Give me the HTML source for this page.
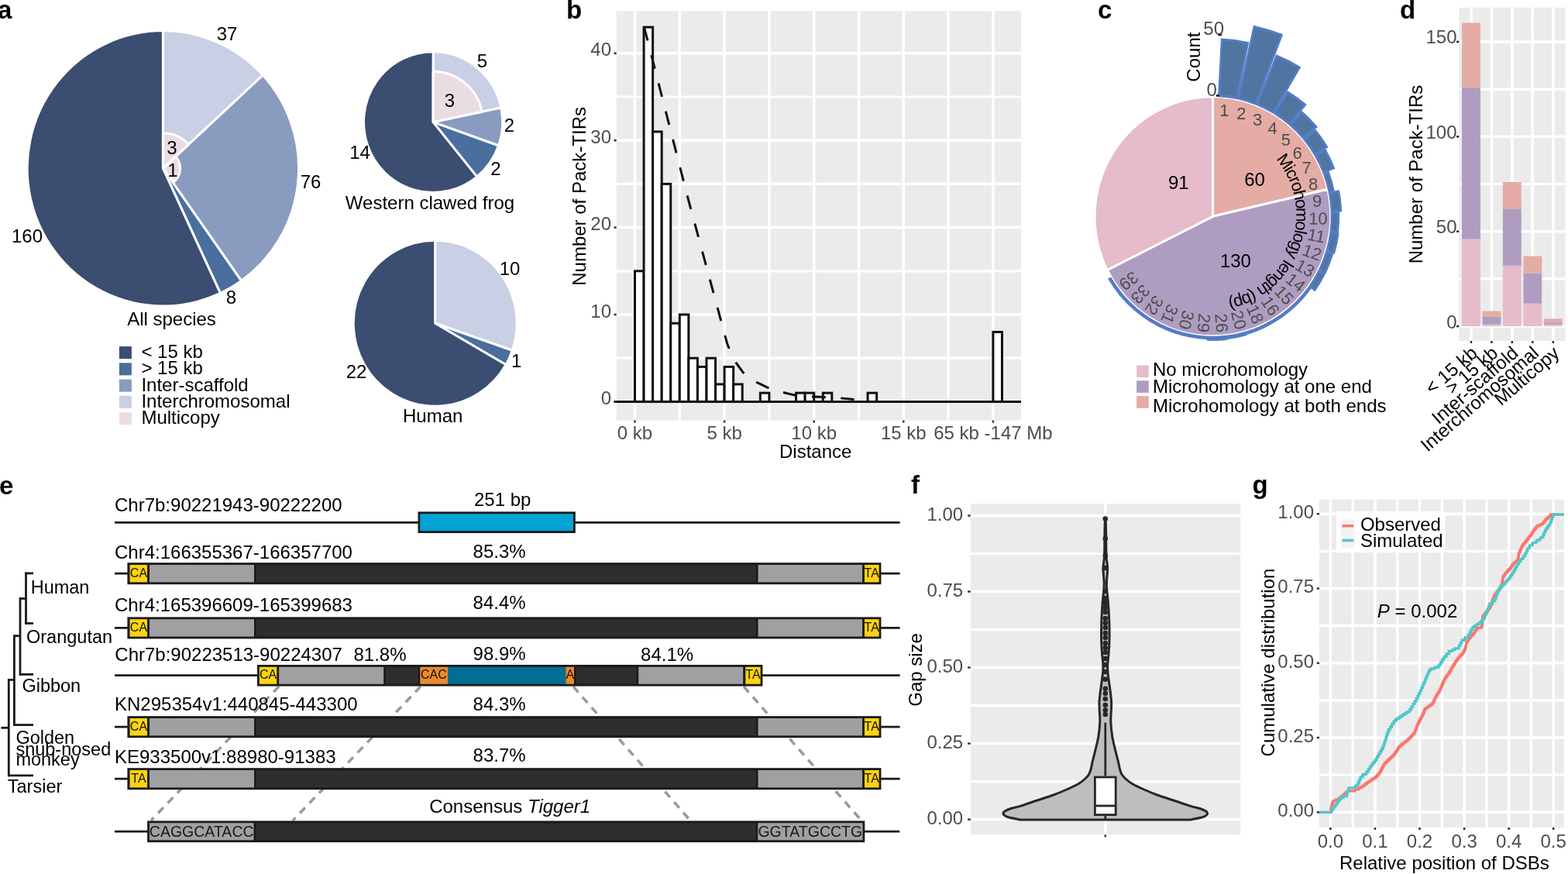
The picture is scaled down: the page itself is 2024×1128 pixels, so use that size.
<!DOCTYPE html>
<html><head><meta charset="utf-8"><title>Figure</title>
<style>
html,body{margin:0;padding:0;background:#fff;}
svg{display:block;}
text{font-family:'Liberation Sans', Arial, Helvetica, sans-serif;}
</style></head><body>
<svg width="2024" height="1128" viewBox="0 0 2024 1128">
<rect width="2024" height="1128" fill="#fff"/>
<text x="-3" y="24.3" font-size="33" font-weight="bold" fill="#000">a</text>
<g transform="translate(210.4 217.3) scale(1 1.0145) translate(-210.4 -217.3)">
<path d="M210.4 217.3L210.4 42.1A175.2 175.2 0 0 1 339.37 98.72Z" fill="#C9CFE4" stroke="#fff" stroke-width="3" stroke-linejoin="round"/>
<path d="M210.4 217.3L339.37 98.72A175.2 175.2 0 0 1 311.47 360.41Z" fill="#899BBF" stroke="#fff" stroke-width="3" stroke-linejoin="round"/>
<path d="M210.4 217.3L311.47 360.41A175.2 175.2 0 0 1 284.39 376.11Z" fill="#4A6E9E" stroke="#fff" stroke-width="3" stroke-linejoin="round"/>
<path d="M210.4 217.3L284.39 376.11A175.2 175.2 0 1 1 210.4 42.1Z" fill="#3C4D72" stroke="#fff" stroke-width="3" stroke-linejoin="round"/>
<path d="M210.4 217.3L210.4 172.3A45 45 0 0 1 243.53 186.84Z" fill="#EADCE3" stroke="#fff" stroke-width="3" stroke-linejoin="round"/>
<path d="M210.4 217.3L226.74 202.27A22.2 22.2 0 0 1 224.44 234.5Z" fill="#EADCE3" stroke="#fff" stroke-width="3" stroke-linejoin="round"/>
</g>
<text x="293" y="52" font-size="24" text-anchor="middle" fill="#000">37</text>
<text x="401" y="243" font-size="24" text-anchor="middle" fill="#000">76</text>
<text x="298.5" y="392" font-size="24" text-anchor="middle" fill="#000">8</text>
<text x="35" y="313" font-size="24" text-anchor="middle" fill="#000">160</text>
<text x="222" y="198.6" font-size="24" text-anchor="middle" fill="#000">3</text>
<text x="223" y="228.4" font-size="24" text-anchor="middle" fill="#000">1</text>
<text x="221.5" y="419.6" font-size="24" text-anchor="middle" fill="#000">All species</text>
<rect x="153.9" y="447.1" width="16" height="16" fill="#3C4D72"/>
<text x="182.4" y="462.2" font-size="24" fill="#000">&lt; 15 kb</text>
<rect x="153.9" y="468.35" width="16" height="16" fill="#4A6E9E"/>
<text x="182.4" y="483.45" font-size="24" fill="#000">&gt; 15 kb</text>
<rect x="153.9" y="489.6" width="16" height="16" fill="#899BBF"/>
<text x="182.4" y="504.7" font-size="24" fill="#000">Inter-scaffold</text>
<rect x="153.9" y="510.85" width="16" height="16" fill="#C9CFE4"/>
<text x="182.4" y="525.95" font-size="24" fill="#000">Interchromosomal</text>
<rect x="153.9" y="532.1" width="16" height="16" fill="#EADCE3"/>
<text x="182.4" y="547.2" font-size="24" fill="#000">Multicopy</text>
<g transform="translate(559.1 157.6) scale(1 1.0145) translate(-559.1 -157.6)">
<path d="M559.1 157.6L559.1 68A89.6 89.6 0 0 1 646.83 139.37Z" fill="#C9CFE4" stroke="#fff" stroke-width="3" stroke-linejoin="round"/>
<path d="M559.1 157.6L646.83 139.37A89.6 89.6 0 0 1 643.53 187.61Z" fill="#899BBF" stroke="#fff" stroke-width="3" stroke-linejoin="round"/>
<path d="M559.1 157.6L643.53 187.61A89.6 89.6 0 0 1 615.65 227.1Z" fill="#4A6E9E" stroke="#fff" stroke-width="3" stroke-linejoin="round"/>
<path d="M559.1 157.6L615.65 227.1A89.6 89.6 0 1 1 559.1 68Z" fill="#3C4D72" stroke="#fff" stroke-width="3" stroke-linejoin="round"/>
<path d="M559.1 157.6L559.1 93.1A64.5 64.5 0 0 1 622.25 144.48Z" fill="#EADCE3" stroke="#fff" stroke-width="3" stroke-linejoin="round"/>
</g>
<text x="622.5" y="87.2" font-size="24" text-anchor="middle" fill="#000">5</text>
<text x="580.5" y="138.3" font-size="24" text-anchor="middle" fill="#000">3</text>
<text x="657.5" y="170.2" font-size="24" text-anchor="middle" fill="#000">2</text>
<text x="640" y="225.5" font-size="24" text-anchor="middle" fill="#000">2</text>
<text x="464.5" y="205.3" font-size="24" text-anchor="middle" fill="#000">14</text>
<text x="555" y="270" font-size="24" text-anchor="middle" fill="#000">Western clawed frog</text>
<g transform="translate(561.7 417.25) scale(1 1.0145) translate(-561.7 -417.25)">
<path d="M561.7 417.25L561.7 311.75A105.5 105.5 0 0 1 661.4 451.76Z" fill="#C9CFE4" stroke="#fff" stroke-width="3" stroke-linejoin="round"/>
<path d="M561.7 417.25L661.4 451.76A105.5 105.5 0 0 1 653.07 470Z" fill="#4A6E9E" stroke="#fff" stroke-width="3" stroke-linejoin="round"/>
<path d="M561.7 417.25L653.07 470A105.5 105.5 0 1 1 561.7 311.75Z" fill="#3C4D72" stroke="#fff" stroke-width="3" stroke-linejoin="round"/>
</g>
<text x="658" y="354.9" font-size="24" text-anchor="middle" fill="#000">10</text>
<text x="666.8" y="473.6" font-size="24" text-anchor="middle" fill="#000">1</text>
<text x="460" y="487.7" font-size="24" text-anchor="middle" fill="#000">22</text>
<text x="558.7" y="545" font-size="24" text-anchor="middle" fill="#000">Human</text>
<text x="731" y="24.3" font-size="33" font-weight="bold" fill="#000">b</text>
<rect x="795.7" y="11" width="522.3" height="531.5" fill="#EBEBEB"/>
<line x1="795.7" y1="462.2" x2="1318" y2="462.2" stroke="#fff" stroke-width="3.2"/>
<line x1="795.7" y1="349.8" x2="1318" y2="349.8" stroke="#fff" stroke-width="3.2"/>
<line x1="795.7" y1="237.4" x2="1318" y2="237.4" stroke="#fff" stroke-width="3.2"/>
<line x1="795.7" y1="125" x2="1318" y2="125" stroke="#fff" stroke-width="3.2"/>
<line x1="795.7" y1="12.6" x2="1318" y2="12.6" stroke="#fff" stroke-width="3.2"/>
<line x1="795.7" y1="518.4" x2="1318" y2="518.4" stroke="#fff" stroke-width="3.5"/>
<line x1="795.7" y1="406" x2="1318" y2="406" stroke="#fff" stroke-width="3.5"/>
<line x1="795.7" y1="293.6" x2="1318" y2="293.6" stroke="#fff" stroke-width="3.5"/>
<line x1="795.7" y1="181.2" x2="1318" y2="181.2" stroke="#fff" stroke-width="3.5"/>
<line x1="795.7" y1="68.8" x2="1318" y2="68.8" stroke="#fff" stroke-width="3.5"/>
<line x1="877.3" y1="11" x2="877.3" y2="542.5" stroke="#fff" stroke-width="3.2"/>
<line x1="992.9" y1="11" x2="992.9" y2="542.5" stroke="#fff" stroke-width="3.2"/>
<line x1="1108.5" y1="11" x2="1108.5" y2="542.5" stroke="#fff" stroke-width="3.2"/>
<line x1="1224.1" y1="11" x2="1224.1" y2="542.5" stroke="#fff" stroke-width="3.2"/>
<line x1="819.5" y1="11" x2="819.5" y2="542.5" stroke="#fff" stroke-width="3.5"/>
<line x1="935.1" y1="11" x2="935.1" y2="542.5" stroke="#fff" stroke-width="3.5"/>
<line x1="1050.7" y1="11" x2="1050.7" y2="542.5" stroke="#fff" stroke-width="3.5"/>
<line x1="1166.3" y1="11" x2="1166.3" y2="542.5" stroke="#fff" stroke-width="3.5"/>
<line x1="1281.9" y1="11" x2="1281.9" y2="542.5" stroke="#fff" stroke-width="3.5"/>
<rect x="819.5" y="349.8" width="11.56" height="168.6" fill="#fff" stroke="#111" stroke-width="3"/>
<rect x="831.06" y="35.08" width="11.56" height="483.32" fill="#fff" stroke="#111" stroke-width="3"/>
<rect x="842.62" y="169.96" width="11.56" height="348.44" fill="#fff" stroke="#111" stroke-width="3"/>
<rect x="854.18" y="237.4" width="11.56" height="281" fill="#fff" stroke="#111" stroke-width="3"/>
<rect x="865.74" y="417.24" width="11.56" height="101.16" fill="#fff" stroke="#111" stroke-width="3"/>
<rect x="877.3" y="406" width="11.56" height="112.4" fill="#fff" stroke="#111" stroke-width="3"/>
<rect x="888.86" y="462.2" width="11.56" height="56.2" fill="#fff" stroke="#111" stroke-width="3"/>
<rect x="900.42" y="473.44" width="11.56" height="44.96" fill="#fff" stroke="#111" stroke-width="3"/>
<rect x="911.98" y="462.2" width="11.56" height="56.2" fill="#fff" stroke="#111" stroke-width="3"/>
<rect x="923.54" y="495.92" width="11.56" height="22.48" fill="#fff" stroke="#111" stroke-width="3"/>
<rect x="935.1" y="473.44" width="11.56" height="44.96" fill="#fff" stroke="#111" stroke-width="3"/>
<rect x="946.66" y="495.92" width="11.56" height="22.48" fill="#fff" stroke="#111" stroke-width="3"/>
<rect x="981.34" y="507.16" width="11.56" height="11.24" fill="#fff" stroke="#111" stroke-width="3"/>
<rect x="1027.58" y="507.16" width="11.56" height="11.24" fill="#fff" stroke="#111" stroke-width="3"/>
<rect x="1039.14" y="507.16" width="11.56" height="11.24" fill="#fff" stroke="#111" stroke-width="3"/>
<rect x="1062.26" y="507.16" width="11.56" height="11.24" fill="#fff" stroke="#111" stroke-width="3"/>
<rect x="1120.06" y="507.16" width="11.56" height="11.24" fill="#fff" stroke="#111" stroke-width="3"/>
<rect x="1281.9" y="428.48" width="11.56" height="89.92" fill="#fff" stroke="#111" stroke-width="3"/>
<line x1="792.5" y1="518.4" x2="1318" y2="518.4" stroke="#111" stroke-width="3"/>
<path d="M831.5 35 L887 252 L938.5 443 L942 452 L946 461 L951 469.5 L959 480.5 L967 487.5 L975.7 493 L991.2 500.4 L1010.4 506.4 L1026 510 L1047.5 511.8 L1061.8 512.6 L1084.5 513.8 L1102.5 515.5" fill="none" stroke="#111" stroke-width="3" stroke-dasharray="18 19.4"/>
<line x1="792.5" y1="518.4" x2="795.7" y2="518.4" stroke="#333" stroke-width="2.5"/>
<text x="789" y="522" font-size="24" text-anchor="end" fill="#4D4D4D">0</text>
<line x1="792.5" y1="406" x2="795.7" y2="406" stroke="#333" stroke-width="2.5"/>
<text x="789" y="409.6" font-size="24" text-anchor="end" fill="#4D4D4D">10</text>
<line x1="792.5" y1="293.6" x2="795.7" y2="293.6" stroke="#333" stroke-width="2.5"/>
<text x="789" y="297.2" font-size="24" text-anchor="end" fill="#4D4D4D">20</text>
<line x1="792.5" y1="181.2" x2="795.7" y2="181.2" stroke="#333" stroke-width="2.5"/>
<text x="789" y="184.8" font-size="24" text-anchor="end" fill="#4D4D4D">30</text>
<line x1="792.5" y1="68.8" x2="795.7" y2="68.8" stroke="#333" stroke-width="2.5"/>
<text x="789" y="72.4" font-size="24" text-anchor="end" fill="#4D4D4D">40</text>
<line x1="819.5" y1="542.5" x2="819.5" y2="545.5" stroke="#333" stroke-width="2.5"/>
<text x="819.5" y="566.5" font-size="24" text-anchor="middle" fill="#4D4D4D">0 kb</text>
<line x1="935.1" y1="542.5" x2="935.1" y2="545.5" stroke="#333" stroke-width="2.5"/>
<text x="935.1" y="566.5" font-size="24" text-anchor="middle" fill="#4D4D4D">5 kb</text>
<line x1="1050.7" y1="542.5" x2="1050.7" y2="545.5" stroke="#333" stroke-width="2.5"/>
<text x="1050.7" y="566.5" font-size="24" text-anchor="middle" fill="#4D4D4D">10 kb</text>
<line x1="1166.3" y1="542.5" x2="1166.3" y2="545.5" stroke="#333" stroke-width="2.5"/>
<text x="1166.3" y="566.5" font-size="24" text-anchor="middle" fill="#4D4D4D">15 kb</text>
<line x1="1281.9" y1="542.5" x2="1281.9" y2="545.5" stroke="#333" stroke-width="2.5"/>
<text x="1281.9" y="566.5" font-size="24" text-anchor="middle" fill="#4D4D4D">65 kb -147 Mb</text>
<text x="1052.7" y="590.7" font-size="24" text-anchor="middle" fill="#000">Distance</text>
<text x="756" y="253.4" font-size="24" text-anchor="middle" fill="#000" transform="rotate(-90 756 253.4)">Number of Pack-TIRs</text>
<text x="1417" y="24.3" font-size="33" font-weight="bold" fill="#000">c</text>
<g transform="translate(1565.45 279.35) scale(1 1.0143) translate(-1565.45 -279.35)">
<path d="M1565.45 279.35L1565.45 127A152.35 152.35 0 0 1 1713.82 244.74Z" fill="#E5ACA5" stroke="#fff" stroke-width="3" stroke-linejoin="round"/>
<path d="M1565.45 279.35L1713.82 244.74A152.35 152.35 0 0 1 1429.21 347.53Z" fill="#AF9DC1" stroke="#fff" stroke-width="3" stroke-linejoin="round"/>
<path d="M1565.45 279.35L1429.21 347.53A152.35 152.35 0 0 1 1565.45 127Z" fill="#E6BBCB" stroke="#fff" stroke-width="3" stroke-linejoin="round"/>
<path d="M1573.59 125.82L1577.38 54.34A225.33 225.33 0 0 1 1610.63 58.6L1596.28 128.72A153.75 153.75 0 0 0 1573.59 125.82Z" fill="#4F75A0" stroke="#547CC4" stroke-width="3" stroke-linejoin="miter"/>
<path d="M1598.76 129.25L1619.03 37.94A247.28 247.28 0 0 1 1654.25 48.56L1620.66 135.86A153.75 153.75 0 0 0 1598.76 129.25Z" fill="#4F75A0" stroke="#547CC4" stroke-width="3" stroke-linejoin="miter"/>
<path d="M1623.03 136.79L1647.93 75.15A220.23 220.23 0 0 1 1677.31 89.65L1643.54 146.91A153.75 153.75 0 0 0 1623.03 136.79Z" fill="#4F75A0" stroke="#547CC4" stroke-width="3" stroke-linejoin="miter"/>
<path d="M1645.72 148.22L1662.27 121.19A185.44 185.44 0 0 1 1684.67 137.3L1664.29 161.58A153.75 153.75 0 0 0 1645.72 148.22Z" fill="#4F75A0" stroke="#547CC4" stroke-width="3" stroke-linejoin="miter"/>
<path d="M1666.23 163.23L1680.41 146.89A175.39 175.39 0 0 1 1698.79 165.41L1682.34 179.47A153.75 153.75 0 0 0 1666.23 163.23Z" fill="#4F75A0" stroke="#547CC4" stroke-width="3" stroke-linejoin="miter"/>
<path d="M1683.97 181.42L1697.68 170.09A171.53 171.53 0 0 1 1712.43 190.92L1697.19 200.08A153.75 153.75 0 0 0 1683.97 181.42Z" fill="#4F75A0" stroke="#547CC4" stroke-width="3" stroke-linejoin="miter"/>
<path d="M1698.49 202.28L1710.53 195.3A167.66 167.66 0 0 1 1721.39 217.75L1708.45 222.87A153.75 153.75 0 0 0 1698.49 202.28Z" fill="#4F75A0" stroke="#547CC4" stroke-width="3" stroke-linejoin="miter"/>
<path d="M1709.36 225.24L1714.43 223.33A159.16 159.16 0 0 1 1721.09 246.06L1715.8 247.19A153.75 153.75 0 0 0 1709.36 225.24Z" fill="#4F75A0" stroke="#547CC4" stroke-width="3" stroke-linejoin="miter"/>
<path d="M1716.31 249.68L1727.69 247.44A165.34 165.34 0 0 1 1730.63 271.87L1719.04 272.39A153.75 153.75 0 0 0 1716.31 249.68Z" fill="#4F75A0" stroke="#547CC4" stroke-width="3" stroke-linejoin="miter"/>
<path d="M1719.14 274.93L1727.64 274.69A162.25 162.25 0 0 1 1726.53 298.8L1718.09 297.78A153.75 153.75 0 0 0 1719.14 274.93Z" fill="#4F75A0" stroke="#547CC4" stroke-width="3" stroke-linejoin="miter"/>
<path d="M1717.77 300.31L1726.95 301.57A163.03 163.03 0 0 1 1721.87 325.29L1712.97 322.67A153.75 153.75 0 0 0 1717.77 300.31Z" fill="#4F75A0" stroke="#547CC4" stroke-width="3" stroke-linejoin="miter"/>
<path d="M1712.23 325.11L1719.61 327.41A161.48 161.48 0 0 1 1710.78 349.75L1703.82 346.38A153.75 153.75 0 0 0 1712.23 325.11Z" fill="#4F75A0" stroke="#547CC4" stroke-width="3" stroke-linejoin="miter"/>
<path d="M1702.69 348.66L1709.59 352.14A161.48 161.48 0 0 1 1697.2 372.72L1690.89 368.25A153.75 153.75 0 0 0 1702.69 348.66Z" fill="#4F75A0" stroke="#547CC4" stroke-width="3" stroke-linejoin="miter"/>
<path d="M1689.4 370.32L1690.65 371.23A155.3 155.3 0 0 1 1675.63 388.79L1674.54 387.7A153.75 153.75 0 0 0 1689.4 370.32Z" fill="#4F75A0" stroke="#547CC4" stroke-width="3" stroke-linejoin="miter"/>
<path d="M1672.73 389.49L1673.81 390.6A155.3 155.3 0 0 1 1656.1 405.44L1655.2 404.19A153.75 153.75 0 0 0 1672.73 389.49Z" fill="#4F75A0" stroke="#547CC4" stroke-width="3" stroke-linejoin="miter"/>
<path d="M1653.12 405.65L1654 406.92A155.3 155.3 0 0 1 1634.1 418.65L1633.41 417.26A153.75 153.75 0 0 0 1653.12 405.65Z" fill="#4F75A0" stroke="#547CC4" stroke-width="3" stroke-linejoin="miter"/>
<path d="M1631.12 418.37L1631.78 419.77A155.3 155.3 0 0 1 1610.22 428.05L1609.77 426.57A153.75 153.75 0 0 0 1631.12 418.37Z" fill="#4F75A0" stroke="#547CC4" stroke-width="3" stroke-linejoin="miter"/>
<path d="M1607.33 427.29L1607.96 429.52A156.07 156.07 0 0 1 1585.21 434.16L1584.92 431.86A153.75 153.75 0 0 0 1607.33 427.29Z" fill="#4F75A0" stroke="#547CC4" stroke-width="3" stroke-linejoin="miter"/>
<path d="M1582.39 432.16L1582.73 435.24A156.84 156.84 0 0 1 1559.41 436.08L1559.53 432.99A153.75 153.75 0 0 0 1582.39 432.16Z" fill="#4F75A0" stroke="#547CC4" stroke-width="3" stroke-linejoin="miter"/>
<path d="M1556.99 432.87L1556.91 434.41A155.3 155.3 0 0 1 1534 431.43L1534.31 429.91A153.75 153.75 0 0 0 1556.99 432.87Z" fill="#4F75A0" stroke="#547CC4" stroke-width="3" stroke-linejoin="miter"/>
<path d="M1531.82 429.38L1531.48 430.89A155.3 155.3 0 0 1 1509.38 424.17L1509.94 422.73A153.75 153.75 0 0 0 1531.82 429.38Z" fill="#4F75A0" stroke="#547CC4" stroke-width="3" stroke-linejoin="miter"/>
<path d="M1507.57 421.79L1506.99 423.22A155.3 155.3 0 0 1 1486.29 412.96L1487.08 411.63A153.75 153.75 0 0 0 1507.57 421.79Z" fill="#4F75A0" stroke="#547CC4" stroke-width="3" stroke-linejoin="miter"/>
<path d="M1484.9 410.31L1484.09 411.63A155.3 155.3 0 0 1 1465.37 398.09L1466.36 396.91A153.75 153.75 0 0 0 1484.9 410.31Z" fill="#4F75A0" stroke="#547CC4" stroke-width="3" stroke-linejoin="miter"/>
<path d="M1464.43 395.26L1463.42 396.42A155.3 155.3 0 0 1 1447.18 379.99L1448.35 378.99A153.75 153.75 0 0 0 1464.43 395.26Z" fill="#4F75A0" stroke="#547CC4" stroke-width="3" stroke-linejoin="miter"/>
<path d="M1446.72 377.04L1445.53 378.02A155.3 155.3 0 0 1 1432.22 359.13L1433.54 358.34A153.75 153.75 0 0 0 1446.72 377.04Z" fill="#4F75A0" stroke="#547CC4" stroke-width="3" stroke-linejoin="miter"/>
<path id="mharc" d="M1660.54 196.69A126 126 0 0 1 1468.93 360.34" fill="none"/>
<text font-size="22" fill="#000"><textPath href="#mharc"><tspan dy="16.5">Microhomology length (bp)</tspan></textPath></text>
</g>
<text x="1521.3" y="243.8" font-size="24" text-anchor="middle" fill="#000">91</text>
<text x="1619.5" y="239.5" font-size="24" text-anchor="middle" fill="#000">60</text>
<text x="1594.9" y="344.9" font-size="24" text-anchor="middle" fill="#000">130</text>
<text x="1580.3" y="142.23" font-size="22" text-anchor="middle" fill="#4D4D4D" transform="rotate(0 1580.3 142.23)" dy="7.5">1</text>
<text x="1602.26" y="146.56" font-size="22" text-anchor="middle" fill="#4D4D4D" transform="rotate(0 1602.26 146.56)" dy="7.5">2</text>
<text x="1623.23" y="154.48" font-size="22" text-anchor="middle" fill="#4D4D4D" transform="rotate(0 1623.23 154.48)" dy="7.5">3</text>
<text x="1642.64" y="165.78" font-size="22" text-anchor="middle" fill="#4D4D4D" transform="rotate(0 1642.64 165.78)" dy="7.5">4</text>
<text x="1659.96" y="180.15" font-size="22" text-anchor="middle" fill="#4D4D4D" transform="rotate(0 1659.96 180.15)" dy="7.5">5</text>
<text x="1674.71" y="197.21" font-size="22" text-anchor="middle" fill="#4D4D4D" transform="rotate(0 1674.71 197.21)" dy="7.5">6</text>
<text x="1686.51" y="216.5" font-size="22" text-anchor="middle" fill="#4D4D4D" transform="rotate(0 1686.51 216.5)" dy="7.5">7</text>
<text x="1695.04" y="237.49" font-size="22" text-anchor="middle" fill="#4D4D4D" transform="rotate(0 1695.04 237.49)" dy="7.5">8</text>
<text x="1700.05" y="259.6" font-size="22" text-anchor="middle" fill="#4D4D4D" transform="rotate(0 1700.05 259.6)" dy="7.5">9</text>
<text x="1701.42" y="282.14" font-size="22" text-anchor="middle" fill="#4D4D4D" transform="rotate(1.16 1701.42 282.14)" dy="7.5">10</text>
<text x="1699.21" y="304.27" font-size="22" text-anchor="middle" fill="#4D4D4D" transform="rotate(10.41 1699.21 304.27)" dy="7.5">11</text>
<text x="1693.52" y="325.76" font-size="22" text-anchor="middle" fill="#4D4D4D" transform="rotate(19.66 1693.52 325.76)" dy="7.5">12</text>
<text x="1684.5" y="346.05" font-size="22" text-anchor="middle" fill="#4D4D4D" transform="rotate(28.91 1684.5 346.05)" dy="7.5">13</text>
<text x="1672.37" y="364.59" font-size="22" text-anchor="middle" fill="#4D4D4D" transform="rotate(38.17 1672.37 364.59)" dy="7.5">14</text>
<text x="1657.47" y="380.92" font-size="22" text-anchor="middle" fill="#4D4D4D" transform="rotate(47.42 1657.47 380.92)" dy="7.5">15</text>
<text x="1639.85" y="394.83" font-size="22" text-anchor="middle" fill="#4D4D4D" transform="rotate(56.84 1639.85 394.83)" dy="7.5">16</text>
<text x="1620.22" y="405.62" font-size="22" text-anchor="middle" fill="#4D4D4D" transform="rotate(66.25 1620.22 405.62)" dy="7.5">18</text>
<text x="1599.11" y="413" font-size="22" text-anchor="middle" fill="#4D4D4D" transform="rotate(75.67 1599.11 413)" dy="7.5">20</text>
<text x="1576.7" y="416.82" font-size="22" text-anchor="middle" fill="#4D4D4D" transform="rotate(85.25 1576.7 416.82)" dy="7.5">26</text>
<text x="1553.91" y="416.8" font-size="22" text-anchor="middle" fill="#4D4D4D" transform="rotate(94.87 1553.91 416.8)" dy="7.5">29</text>
<text x="1531.43" y="412.91" font-size="22" text-anchor="middle" fill="#4D4D4D" transform="rotate(104.48 1531.43 412.91)" dy="7.5">30</text>
<text x="1509.92" y="405.27" font-size="22" text-anchor="middle" fill="#4D4D4D" transform="rotate(114.1 1509.92 405.27)" dy="7.5">31</text>
<text x="1489.96" y="394.09" font-size="22" text-anchor="middle" fill="#4D4D4D" transform="rotate(123.72 1489.96 394.09)" dy="7.5">32</text>
<text x="1472.13" y="379.69" font-size="22" text-anchor="middle" fill="#4D4D4D" transform="rotate(133.33 1472.13 379.69)" dy="7.5">33</text>
<text x="1456.91" y="362.47" font-size="22" text-anchor="middle" fill="#4D4D4D" transform="rotate(142.95 1456.91 362.47)" dy="7.5">39</text>
<text x="1580" y="45" font-size="24" text-anchor="end" fill="#4D4D4D">50</text>
<text x="1570.8" y="123.7" font-size="24" text-anchor="end" fill="#4D4D4D">0</text>
<line x1="1572.3" y1="45" x2="1577" y2="45" stroke="#222" stroke-width="2.6"/>
<line x1="1569.7" y1="123.4" x2="1574" y2="123.4" stroke="#222" stroke-width="2.6"/>
<text x="1549.3" y="73.6" font-size="24" text-anchor="middle" fill="#000" transform="rotate(-90 1549.3 73.6)">Count</text>
<rect x="1467.1" y="471.5" width="15.7" height="15.6" fill="#E6BBCB"/>
<text x="1488" y="485" font-size="24" fill="#000">No microhomology</text>
<rect x="1467.1" y="491.3" width="15.7" height="15.6" fill="#AF9DC1"/>
<text x="1488" y="506.9" font-size="24" fill="#000">Microhomology at one end</text>
<rect x="1467.1" y="511.1" width="15.7" height="15.6" fill="#E5ACA5"/>
<text x="1488" y="531.5" font-size="24" fill="#000">Microhomology at both ends</text>
<text x="1807" y="24.3" font-size="33" font-weight="bold" fill="#000">d</text>
<rect x="1883.4" y="9.8" width="137.1" height="430.2" fill="#EBEBEB"/>
<line x1="1883.4" y1="359.9" x2="2020.5" y2="359.9" stroke="#fff" stroke-width="3.2"/>
<line x1="1883.4" y1="237.5" x2="2020.5" y2="237.5" stroke="#fff" stroke-width="3.2"/>
<line x1="1883.4" y1="115.1" x2="2020.5" y2="115.1" stroke="#fff" stroke-width="3.2"/>
<line x1="1883.4" y1="421.1" x2="2020.5" y2="421.1" stroke="#fff" stroke-width="3.5"/>
<line x1="1883.4" y1="298.7" x2="2020.5" y2="298.7" stroke="#fff" stroke-width="3.5"/>
<line x1="1883.4" y1="176.3" x2="2020.5" y2="176.3" stroke="#fff" stroke-width="3.5"/>
<line x1="1883.4" y1="53.9" x2="2020.5" y2="53.9" stroke="#fff" stroke-width="3.5"/>
<line x1="1899" y1="9.8" x2="1899" y2="440" stroke="#fff" stroke-width="3.5"/>
<line x1="1925.5" y1="9.8" x2="1925.5" y2="440" stroke="#fff" stroke-width="3.5"/>
<line x1="1951.8" y1="9.8" x2="1951.8" y2="440" stroke="#fff" stroke-width="3.5"/>
<line x1="1978.3" y1="9.8" x2="1978.3" y2="440" stroke="#fff" stroke-width="3.5"/>
<line x1="2004.8" y1="9.8" x2="2004.8" y2="440" stroke="#fff" stroke-width="3.5"/>
<rect x="1887.05" y="308.49" width="23.9" height="112.61" fill="#E6BBCB"/>
<rect x="1887.05" y="112.65" width="23.9" height="195.84" fill="#AF9DC1"/>
<rect x="1887.05" y="29.42" width="23.9" height="83.23" fill="#E5ACA5"/>
<rect x="1913.55" y="418.65" width="23.9" height="2.45" fill="#E6BBCB"/>
<rect x="1913.55" y="408.86" width="23.9" height="9.79" fill="#AF9DC1"/>
<rect x="1913.55" y="401.52" width="23.9" height="7.34" fill="#E5ACA5"/>
<rect x="1939.85" y="342.76" width="23.9" height="78.34" fill="#E6BBCB"/>
<rect x="1939.85" y="269.32" width="23.9" height="73.44" fill="#AF9DC1"/>
<rect x="1939.85" y="235.05" width="23.9" height="34.27" fill="#E5ACA5"/>
<rect x="1966.35" y="391.72" width="23.9" height="29.38" fill="#E6BBCB"/>
<rect x="1966.35" y="352.56" width="23.9" height="39.17" fill="#AF9DC1"/>
<rect x="1966.35" y="330.52" width="23.9" height="22.03" fill="#E5ACA5"/>
<rect x="1992.85" y="418.65" width="23.9" height="2.45" fill="#E6BBCB"/>
<rect x="1992.85" y="416.2" width="23.9" height="2.45" fill="#AF9DC1"/>
<rect x="1992.85" y="411.31" width="23.9" height="4.9" fill="#E5ACA5"/>
<line x1="1880" y1="421.1" x2="1883.4" y2="421.1" stroke="#333" stroke-width="2.5"/>
<text x="1880.5" y="423.6" font-size="24" text-anchor="end" fill="#4D4D4D">0</text>
<line x1="1880" y1="298.7" x2="1883.4" y2="298.7" stroke="#333" stroke-width="2.5"/>
<text x="1880.5" y="301.2" font-size="24" text-anchor="end" fill="#4D4D4D">50</text>
<line x1="1880" y1="176.3" x2="1883.4" y2="176.3" stroke="#333" stroke-width="2.5"/>
<text x="1880.5" y="178.8" font-size="24" text-anchor="end" fill="#4D4D4D">100</text>
<line x1="1880" y1="53.9" x2="1883.4" y2="53.9" stroke="#333" stroke-width="2.5"/>
<text x="1880.5" y="56.4" font-size="24" text-anchor="end" fill="#4D4D4D">150</text>
<line x1="1899" y1="440" x2="1899" y2="443" stroke="#333" stroke-width="2.5"/>
<text x="1908.5" y="458" font-size="24" text-anchor="end" fill="#000" transform="rotate(-41 1908.5 458)">&lt; 15 kb</text>
<line x1="1925.5" y1="440" x2="1925.5" y2="443" stroke="#333" stroke-width="2.5"/>
<text x="1935" y="458" font-size="24" text-anchor="end" fill="#000" transform="rotate(-41 1935 458)">&gt; 15 kb</text>
<line x1="1951.8" y1="440" x2="1951.8" y2="443" stroke="#333" stroke-width="2.5"/>
<text x="1961.3" y="458" font-size="24" text-anchor="end" fill="#000" transform="rotate(-41 1961.3 458)">Inter-scaffold</text>
<line x1="1978.3" y1="440" x2="1978.3" y2="443" stroke="#333" stroke-width="2.5"/>
<text x="1987.8" y="458" font-size="24" text-anchor="end" fill="#000" transform="rotate(-41 1987.8 458)">Interchromosomal</text>
<line x1="2004.8" y1="440" x2="2004.8" y2="443" stroke="#333" stroke-width="2.5"/>
<text x="2014.3" y="458" font-size="24" text-anchor="end" fill="#000" transform="rotate(-41 2014.3 458)">Multicopy</text>
<text x="1835.5" y="225" font-size="24" text-anchor="middle" fill="#000" transform="rotate(-90 1835.5 225)">Number of Pack-TIRs</text>
<text x="-1" y="637.5" font-size="33" font-weight="bold" fill="#000">e</text>
<line x1="360" y1="886" x2="195" y2="1059" stroke="#9A9A9A" stroke-width="3.5" stroke-dasharray="10 8"/>
<line x1="543" y1="886" x2="378" y2="1059" stroke="#9A9A9A" stroke-width="3.5" stroke-dasharray="10 8"/>
<line x1="740" y1="886" x2="891" y2="1059" stroke="#9A9A9A" stroke-width="3.5" stroke-dasharray="10 8"/>
<line x1="960" y1="886" x2="1112" y2="1059" stroke="#9A9A9A" stroke-width="3.5" stroke-dasharray="10 8"/>
<line x1="32.1" y1="739.9" x2="43" y2="739.9" stroke="#1a1a1a" stroke-width="2.8"/>
<line x1="32.1" y1="804.5" x2="43" y2="804.5" stroke="#1a1a1a" stroke-width="2.8"/>
<line x1="33.5" y1="738.5" x2="33.5" y2="806" stroke="#1a1a1a" stroke-width="2.8"/>
<line x1="25" y1="772.5" x2="33.5" y2="772.5" stroke="#1a1a1a" stroke-width="2.8"/>
<line x1="25" y1="870.4" x2="43" y2="870.4" stroke="#1a1a1a" stroke-width="2.8"/>
<line x1="26" y1="771" x2="26" y2="872" stroke="#1a1a1a" stroke-width="2.8"/>
<line x1="17.9" y1="820.7" x2="26" y2="820.7" stroke="#1a1a1a" stroke-width="2.8"/>
<line x1="17.9" y1="935.6" x2="43" y2="935.6" stroke="#1a1a1a" stroke-width="2.8"/>
<line x1="18.4" y1="819.3" x2="18.4" y2="937" stroke="#1a1a1a" stroke-width="2.8"/>
<line x1="10.8" y1="877.4" x2="18.4" y2="877.4" stroke="#1a1a1a" stroke-width="2.8"/>
<line x1="10.8" y1="1000.9" x2="43" y2="1000.9" stroke="#1a1a1a" stroke-width="2.8"/>
<line x1="11.3" y1="876" x2="11.3" y2="1002.3" stroke="#1a1a1a" stroke-width="2.8"/>
<line x1="1.4" y1="939.3" x2="11.3" y2="939.3" stroke="#1a1a1a" stroke-width="2.8"/>
<text x="39.7" y="766.2" font-size="23.5" fill="#000">Human</text>
<text x="34" y="830" font-size="23.5" fill="#000">Orangutan</text>
<text x="28.4" y="892.5" font-size="23.5" fill="#000">Gibbon</text>
<text x="20.4" y="960.3" font-size="23.5" fill="#000">Golden</text>
<text x="20.4" y="974.8" font-size="23.5" fill="#000">snub-nosed</text>
<text x="20.4" y="987.8" font-size="23.5" fill="#000">monkey</text>
<text x="9.8" y="1023.2" font-size="23.5" fill="#000">Tarsier</text>
<text x="148" y="659.5" font-size="24" fill="#000">Chr7b:90221943-90222200</text>
<line x1="148" y1="674.3" x2="1161.6" y2="674.3" stroke="#1a1a1a" stroke-width="2.8"/>
<rect x="540.9" y="661.8" width="200.5" height="24.8" fill="#02A3D4" stroke="#1A1A1A" stroke-width="2.8"/>
<text x="612" y="653.4" font-size="24" fill="#000">251 bp</text>
<text x="148" y="720.5" font-size="24" fill="#000">Chr4:166355367-166357700</text>
<text x="610.6" y="720.1" font-size="24" fill="#000">85.3%</text>
<line x1="148" y1="740.2" x2="1161.6" y2="740.2" stroke="#1a1a1a" stroke-width="2.8"/>
<rect x="165.9" y="727.7" width="970" height="25" fill="#2E2E2E" stroke="#1A1A1A" stroke-width="3"/>
<rect x="167.6" y="729" width="22.7" height="22.4" fill="#FDD30F"/>
<text x="178.95" y="744.76" font-size="16" text-anchor="middle" fill="#111">CA</text>
<rect x="192.8" y="729" width="135.4" height="22.4" fill="#A0A0A2"/>
<rect x="978.1" y="729" width="135.2" height="22.4" fill="#A0A0A2"/>
<rect x="1115.8" y="729" width="18.8" height="22.4" fill="#FDD30F"/>
<text x="1125.2" y="744.76" font-size="16" text-anchor="middle" fill="#111">TA</text>
<line x1="191.5" y1="727.7" x2="191.5" y2="752.7" stroke="#1A1A1A" stroke-width="2.6"/>
<line x1="329.3" y1="727.7" x2="329.3" y2="752.7" stroke="#1A1A1A" stroke-width="2.6"/>
<line x1="977.2" y1="727.7" x2="977.2" y2="752.7" stroke="#1A1A1A" stroke-width="2.6"/>
<line x1="1114.5" y1="727.7" x2="1114.5" y2="752.7" stroke="#1A1A1A" stroke-width="2.6"/>
<text x="148" y="789" font-size="24" fill="#000">Chr4:165396609-165399683</text>
<text x="610.6" y="786" font-size="24" fill="#000">84.4%</text>
<line x1="148" y1="810.4" x2="1161.6" y2="810.4" stroke="#1a1a1a" stroke-width="2.8"/>
<rect x="165.9" y="797.9" width="970" height="25" fill="#2E2E2E" stroke="#1A1A1A" stroke-width="3"/>
<rect x="167.6" y="799.2" width="22.7" height="22.4" fill="#FDD30F"/>
<text x="178.95" y="814.96" font-size="16" text-anchor="middle" fill="#111">CA</text>
<rect x="192.8" y="799.2" width="135.4" height="22.4" fill="#A0A0A2"/>
<rect x="978.1" y="799.2" width="135.2" height="22.4" fill="#A0A0A2"/>
<rect x="1115.8" y="799.2" width="18.8" height="22.4" fill="#FDD30F"/>
<text x="1125.2" y="814.96" font-size="16" text-anchor="middle" fill="#111">TA</text>
<line x1="191.5" y1="797.9" x2="191.5" y2="822.9" stroke="#1A1A1A" stroke-width="2.6"/>
<line x1="329.3" y1="797.9" x2="329.3" y2="822.9" stroke="#1A1A1A" stroke-width="2.6"/>
<line x1="977.2" y1="797.9" x2="977.2" y2="822.9" stroke="#1A1A1A" stroke-width="2.6"/>
<line x1="1114.5" y1="797.9" x2="1114.5" y2="822.9" stroke="#1A1A1A" stroke-width="2.6"/>
<text x="148" y="917.1" font-size="24" fill="#000">KN295354v1:440845-443300</text>
<text x="610.6" y="917.2" font-size="24" fill="#000">84.3%</text>
<line x1="148" y1="938.2" x2="1161.6" y2="938.2" stroke="#1a1a1a" stroke-width="2.8"/>
<rect x="165.9" y="925.7" width="970" height="25" fill="#2E2E2E" stroke="#1A1A1A" stroke-width="3"/>
<rect x="167.6" y="927" width="22.7" height="22.4" fill="#FDD30F"/>
<text x="178.95" y="942.76" font-size="16" text-anchor="middle" fill="#111">CA</text>
<rect x="192.8" y="927" width="135.4" height="22.4" fill="#A0A0A2"/>
<rect x="978.1" y="927" width="135.2" height="22.4" fill="#A0A0A2"/>
<rect x="1115.8" y="927" width="18.8" height="22.4" fill="#FDD30F"/>
<text x="1125.2" y="942.76" font-size="16" text-anchor="middle" fill="#111">TA</text>
<line x1="191.5" y1="925.7" x2="191.5" y2="950.7" stroke="#1A1A1A" stroke-width="2.6"/>
<line x1="329.3" y1="925.7" x2="329.3" y2="950.7" stroke="#1A1A1A" stroke-width="2.6"/>
<line x1="977.2" y1="925.7" x2="977.2" y2="950.7" stroke="#1A1A1A" stroke-width="2.6"/>
<line x1="1114.5" y1="925.7" x2="1114.5" y2="950.7" stroke="#1A1A1A" stroke-width="2.6"/>
<text x="148" y="985.3" font-size="24" fill="#000">KE933500v1:88980-91383</text>
<text x="610.6" y="983.2" font-size="24" fill="#000">83.7%</text>
<line x1="148" y1="1005.2" x2="1161.6" y2="1005.2" stroke="#1a1a1a" stroke-width="2.8"/>
<rect x="165.9" y="992.7" width="970" height="25" fill="#2E2E2E" stroke="#1A1A1A" stroke-width="3"/>
<rect x="167.6" y="994" width="22.7" height="22.4" fill="#FDD30F"/>
<text x="178.95" y="1009.76" font-size="16" text-anchor="middle" fill="#111">TA</text>
<rect x="192.8" y="994" width="135.4" height="22.4" fill="#A0A0A2"/>
<rect x="978.1" y="994" width="135.2" height="22.4" fill="#A0A0A2"/>
<rect x="1115.8" y="994" width="18.8" height="22.4" fill="#FDD30F"/>
<text x="1125.2" y="1009.76" font-size="16" text-anchor="middle" fill="#111">TA</text>
<line x1="191.5" y1="992.7" x2="191.5" y2="1017.7" stroke="#1A1A1A" stroke-width="2.6"/>
<line x1="329.3" y1="992.7" x2="329.3" y2="1017.7" stroke="#1A1A1A" stroke-width="2.6"/>
<line x1="977.2" y1="992.7" x2="977.2" y2="1017.7" stroke="#1A1A1A" stroke-width="2.6"/>
<line x1="1114.5" y1="992.7" x2="1114.5" y2="1017.7" stroke="#1A1A1A" stroke-width="2.6"/>
<text x="148.3" y="852.8" font-size="24" fill="#000">Chr7b:90223513-90224307</text>
<text x="456.5" y="852.5" font-size="24" fill="#000">81.8%</text>
<text x="610.6" y="852" font-size="24" fill="#000">98.9%</text>
<text x="827.1" y="852.5" font-size="24" fill="#000">84.1%</text>
<line x1="148" y1="871.6" x2="1161.6" y2="871.6" stroke="#1a1a1a" stroke-width="2.8"/>
<rect x="333.5" y="859.5" width="649.4" height="24.6" fill="#2E2E2E" stroke="#1A1A1A" stroke-width="3"/>
<rect x="334.8" y="860.8" width="22.7" height="22" fill="#FDD30F"/>
<text x="346.15" y="876.36" font-size="16" text-anchor="middle" fill="#111">CA</text>
<rect x="360" y="860.8" width="135.3" height="22" fill="#A0A0A2"/>
<rect x="541.8" y="860.8" width="36.3" height="22" fill="#E98A2C"/>
<text x="559.95" y="876.36" font-size="16" text-anchor="middle" fill="#111">CAC</text>
<rect x="578.1" y="860.8" width="152.3" height="22" fill="#026E96"/>
<rect x="730.4" y="860.8" width="10.9" height="22" fill="#E98A2C"/>
<text x="735.85" y="876.36" font-size="16" text-anchor="middle" fill="#111">A</text>
<rect x="824" y="860.8" width="135.2" height="22" fill="#A0A0A2"/>
<rect x="962.3" y="860.8" width="19.3" height="22" fill="#FDD30F"/>
<text x="971.95" y="876.36" font-size="16" text-anchor="middle" fill="#111">TA</text>
<line x1="358.8" y1="859.5" x2="358.8" y2="884.1" stroke="#1A1A1A" stroke-width="2.6"/>
<line x1="496.7" y1="859.5" x2="496.7" y2="884.1" stroke="#1A1A1A" stroke-width="2.6"/>
<line x1="541" y1="859.5" x2="541" y2="884.1" stroke="#1A1A1A" stroke-width="2.6"/>
<line x1="742.3" y1="859.5" x2="742.3" y2="884.1" stroke="#1A1A1A" stroke-width="2.6"/>
<line x1="822.9" y1="859.5" x2="822.9" y2="884.1" stroke="#1A1A1A" stroke-width="2.6"/>
<line x1="960.8" y1="859.5" x2="960.8" y2="884.1" stroke="#1A1A1A" stroke-width="2.6"/>
<text x="554.2" y="1049" font-size="24" fill="#000">Consensus <tspan font-style="italic">Tigger1</tspan></text>
<line x1="148" y1="1073.2" x2="1161.3" y2="1073.2" stroke="#1a1a1a" stroke-width="2.8"/>
<rect x="191.6" y="1060.9" width="923.2" height="24.7" fill="#2E2E2E" stroke="#1A1A1A" stroke-width="3"/>
<rect x="192.9" y="1062.2" width="134.8" height="22.1" fill="#A0A0A2"/>
<rect x="978" y="1062.2" width="135.5" height="22.1" fill="#A0A0A2"/>
<line x1="329" y1="1060.9" x2="329" y2="1085.6" stroke="#1A1A1A" stroke-width="2.6"/>
<line x1="977" y1="1060.9" x2="977" y2="1085.6" stroke="#1A1A1A" stroke-width="2.6"/>
<text x="260.2" y="1080.2" font-size="19.5" text-anchor="middle" fill="#1a1a1a">CAGGCATACC</text>
<text x="1045.8" y="1080.2" font-size="19.5" text-anchor="middle" fill="#1a1a1a">GGTATGCCTG</text>
<text x="1176" y="637" font-size="33" font-weight="bold" fill="#000">f</text>
<rect x="1252.7" y="650.1" width="348.6" height="427.2" fill="#EBEBEB"/>
<line x1="1252.7" y1="1008.59" x2="1601.3" y2="1008.59" stroke="#fff" stroke-width="3.2"/>
<line x1="1252.7" y1="910.56" x2="1601.3" y2="910.56" stroke="#fff" stroke-width="3.2"/>
<line x1="1252.7" y1="812.54" x2="1601.3" y2="812.54" stroke="#fff" stroke-width="3.2"/>
<line x1="1252.7" y1="714.51" x2="1601.3" y2="714.51" stroke="#fff" stroke-width="3.2"/>
<line x1="1252.7" y1="1057.6" x2="1601.3" y2="1057.6" stroke="#fff" stroke-width="3.5"/>
<line x1="1252.7" y1="959.57" x2="1601.3" y2="959.57" stroke="#fff" stroke-width="3.5"/>
<line x1="1252.7" y1="861.55" x2="1601.3" y2="861.55" stroke="#fff" stroke-width="3.5"/>
<line x1="1252.7" y1="763.52" x2="1601.3" y2="763.52" stroke="#fff" stroke-width="3.5"/>
<line x1="1252.7" y1="665.5" x2="1601.3" y2="665.5" stroke="#fff" stroke-width="3.5"/>
<line x1="1426.8" y1="650.1" x2="1426.8" y2="1077.3" stroke="#fff" stroke-width="3.5"/>
<path d="M1316.8 1058C1314.13 1057.42 1304.3 1055.58 1300.8 1054.5C1297.3 1053.42 1296.77 1052.3 1295.8 1051.5C1294.83 1050.7 1294.83 1050.45 1295 1049.7C1295.17 1048.95 1295.17 1048.03 1296.8 1047C1298.43 1045.97 1301.47 1044.6 1304.8 1043.5C1308.13 1042.4 1311.13 1042.15 1316.8 1040.4C1322.47 1038.65 1331.63 1035.4 1338.8 1033C1345.97 1030.6 1353.47 1028.33 1359.8 1026C1366.13 1023.67 1371.47 1021.38 1376.8 1019C1382.13 1016.62 1387.8 1014.03 1391.8 1011.7C1395.8 1009.37 1398.47 1007.13 1400.8 1005C1403.13 1002.87 1404.55 1001.07 1405.8 998.9C1407.05 996.73 1407.63 994.38 1408.3 992C1408.97 989.62 1408.88 988.5 1409.8 984.6C1410.72 980.7 1412.47 974.18 1413.8 968.6C1415.13 963.02 1416.8 957.22 1417.8 951.1C1418.8 944.98 1419.57 937.75 1419.8 931.9C1420.03 926.05 1419.33 920.32 1419.2 916C1419.07 911.68 1418.82 909.83 1419 906C1419.18 902.17 1419.77 897.43 1420.3 893C1420.83 888.57 1421.65 883.57 1422.2 879.4C1422.75 875.23 1423.32 871.57 1423.6 868C1423.88 864.43 1424.1 862.33 1423.9 858C1423.7 853.67 1422.78 847.33 1422.4 842C1422.02 836.67 1421.73 831 1421.6 826C1421.47 821 1421.55 816.33 1421.6 812C1421.65 807.67 1421.73 804.33 1421.9 800C1422.07 795.67 1422.32 790.5 1422.6 786C1422.88 781.5 1423.23 777 1423.6 773C1423.97 769 1424.53 765.5 1424.8 762C1425.07 758.5 1425.27 755.33 1425.2 752C1425.13 748.67 1424.62 745.17 1424.4 742C1424.18 738.83 1423.83 735.83 1423.9 733C1423.97 730.17 1424.55 727.2 1424.8 725C1425.05 722.8 1425.23 722.88 1425.4 719.8C1425.57 716.72 1425.72 711.47 1425.8 706.5C1425.88 701.53 1425.83 695.08 1425.9 690C1425.97 684.92 1426.05 679.5 1426.2 676C1426.35 672.5 1426.6 669 1426.8 669C1427 669 1427.25 672.5 1427.4 676C1427.55 679.5 1427.63 684.92 1427.7 690C1427.77 695.08 1427.72 701.53 1427.8 706.5C1427.88 711.47 1428.03 716.72 1428.2 719.8C1428.37 722.88 1428.55 722.8 1428.8 725C1429.05 727.2 1429.63 730.17 1429.7 733C1429.77 735.83 1429.42 738.83 1429.2 742C1428.98 745.17 1428.47 748.67 1428.4 752C1428.33 755.33 1428.53 758.5 1428.8 762C1429.07 765.5 1429.63 769 1430 773C1430.37 777 1430.72 781.5 1431 786C1431.28 790.5 1431.53 795.67 1431.7 800C1431.87 804.33 1431.95 807.67 1432 812C1432.05 816.33 1432.13 821 1432 826C1431.87 831 1431.58 836.67 1431.2 842C1430.82 847.33 1429.9 853.67 1429.7 858C1429.5 862.33 1429.72 864.43 1430 868C1430.28 871.57 1430.85 875.23 1431.4 879.4C1431.95 883.57 1432.77 888.57 1433.3 893C1433.83 897.43 1434.42 902.17 1434.6 906C1434.78 909.83 1434.53 911.68 1434.4 916C1434.27 920.32 1433.57 926.05 1433.8 931.9C1434.03 937.75 1434.8 944.98 1435.8 951.1C1436.8 957.22 1438.47 963.02 1439.8 968.6C1441.13 974.18 1442.88 980.7 1443.8 984.6C1444.72 988.5 1444.63 989.62 1445.3 992C1445.97 994.38 1446.55 996.73 1447.8 998.9C1449.05 1001.07 1450.47 1002.87 1452.8 1005C1455.13 1007.13 1457.8 1009.37 1461.8 1011.7C1465.8 1014.03 1471.47 1016.62 1476.8 1019C1482.13 1021.38 1487.47 1023.67 1493.8 1026C1500.13 1028.33 1507.63 1030.6 1514.8 1033C1521.97 1035.4 1531.13 1038.65 1536.8 1040.4C1542.47 1042.15 1545.47 1042.4 1548.8 1043.5C1552.13 1044.6 1555.17 1045.97 1556.8 1047C1558.43 1048.03 1558.43 1048.95 1558.6 1049.7C1558.77 1050.45 1558.77 1050.7 1557.8 1051.5C1556.83 1052.3 1556.3 1053.42 1552.8 1054.5C1549.3 1055.58 1539.47 1057.42 1536.8 1058Z" fill="#BEBEC0" stroke="#2A2626" stroke-width="3" stroke-linejoin="round"/>
<line x1="1426.8" y1="932.7" x2="1426.8" y2="1001.6" stroke="#2A2626" stroke-width="2.8"/>
<line x1="1426.8" y1="1052.9" x2="1426.8" y2="1058" stroke="#2A2626" stroke-width="2.8"/>
<rect x="1413.4" y="1003" width="26.8" height="48.6" fill="#fff" stroke="#2A2626" stroke-width="2.8"/>
<line x1="1413.4" y1="1040" x2="1440.2" y2="1040" stroke="#2A2626" stroke-width="2.8"/>
<circle cx="1426.8" cy="669.5" r="3.3" fill="#2A2626"/>
<circle cx="1426.8" cy="695" r="3.3" fill="#2A2626"/>
<circle cx="1426.8" cy="717" r="3.3" fill="#2A2626"/>
<circle cx="1426.8" cy="733" r="3.3" fill="#2A2626"/>
<circle cx="1426.8" cy="763" r="3.3" fill="#2A2626"/>
<circle cx="1426.8" cy="772" r="3.3" fill="#2A2626"/>
<circle cx="1426.8" cy="778" r="3.3" fill="#2A2626"/>
<circle cx="1426.8" cy="784" r="3.3" fill="#2A2626"/>
<circle cx="1426.8" cy="790" r="3.3" fill="#2A2626"/>
<circle cx="1426.8" cy="798" r="3.3" fill="#2A2626"/>
<circle cx="1426.8" cy="804" r="3.3" fill="#2A2626"/>
<circle cx="1426.8" cy="810" r="3.3" fill="#2A2626"/>
<circle cx="1426.8" cy="817" r="3.3" fill="#2A2626"/>
<circle cx="1426.8" cy="823" r="3.3" fill="#2A2626"/>
<circle cx="1426.8" cy="830" r="3.3" fill="#2A2626"/>
<circle cx="1426.8" cy="836" r="3.3" fill="#2A2626"/>
<circle cx="1426.8" cy="842" r="3.3" fill="#2A2626"/>
<circle cx="1426.8" cy="850" r="3.3" fill="#2A2626"/>
<circle cx="1426.8" cy="858" r="3.3" fill="#2A2626"/>
<circle cx="1426.8" cy="867" r="3.3" fill="#2A2626"/>
<circle cx="1426.8" cy="876.7" r="3.3" fill="#2A2626"/>
<circle cx="1426.8" cy="888.7" r="3.3" fill="#2A2626"/>
<circle cx="1426.8" cy="895" r="3.3" fill="#2A2626"/>
<circle cx="1426.8" cy="902" r="3.3" fill="#2A2626"/>
<circle cx="1426.8" cy="910" r="3.3" fill="#2A2626"/>
<circle cx="1426.8" cy="916.6" r="3.3" fill="#2A2626"/>
<circle cx="1426.8" cy="922" r="3.3" fill="#2A2626"/>
<line x1="1249.2" y1="1057.6" x2="1252.7" y2="1057.6" stroke="#333" stroke-width="2.5"/>
<text x="1243.1" y="1063.8" font-size="24" text-anchor="end" fill="#4D4D4D">0.00</text>
<line x1="1249.2" y1="959.57" x2="1252.7" y2="959.57" stroke="#333" stroke-width="2.5"/>
<text x="1243.1" y="965.77" font-size="24" text-anchor="end" fill="#4D4D4D">0.25</text>
<line x1="1249.2" y1="861.55" x2="1252.7" y2="861.55" stroke="#333" stroke-width="2.5"/>
<text x="1243.1" y="867.75" font-size="24" text-anchor="end" fill="#4D4D4D">0.50</text>
<line x1="1249.2" y1="763.52" x2="1252.7" y2="763.52" stroke="#333" stroke-width="2.5"/>
<text x="1243.1" y="769.72" font-size="24" text-anchor="end" fill="#4D4D4D">0.75</text>
<line x1="1249.2" y1="665.5" x2="1252.7" y2="665.5" stroke="#333" stroke-width="2.5"/>
<text x="1243.1" y="671.7" font-size="24" text-anchor="end" fill="#4D4D4D">1.00</text>
<line x1="1426.8" y1="1077.3" x2="1426.8" y2="1080.3" stroke="#333" stroke-width="2.5"/>
<text x="1190.5" y="864.4" font-size="24" text-anchor="middle" fill="#000" transform="rotate(-90 1190.5 864.4)">Gap size</text>
<text x="1616.5" y="637" font-size="33" font-weight="bold" fill="#000">g</text>
<rect x="1703" y="644.6" width="315.9" height="423.4" fill="#EBEBEB"/>
<line x1="1703" y1="1000.16" x2="2018.9" y2="1000.16" stroke="#fff" stroke-width="3.2"/>
<line x1="1703" y1="903.89" x2="2018.9" y2="903.89" stroke="#fff" stroke-width="3.2"/>
<line x1="1703" y1="807.61" x2="2018.9" y2="807.61" stroke="#fff" stroke-width="3.2"/>
<line x1="1703" y1="711.34" x2="2018.9" y2="711.34" stroke="#fff" stroke-width="3.2"/>
<line x1="1703" y1="1048.3" x2="2018.9" y2="1048.3" stroke="#fff" stroke-width="3.5"/>
<line x1="1703" y1="952.02" x2="2018.9" y2="952.02" stroke="#fff" stroke-width="3.5"/>
<line x1="1703" y1="855.75" x2="2018.9" y2="855.75" stroke="#fff" stroke-width="3.5"/>
<line x1="1703" y1="759.47" x2="2018.9" y2="759.47" stroke="#fff" stroke-width="3.5"/>
<line x1="1703" y1="663.2" x2="2018.9" y2="663.2" stroke="#fff" stroke-width="3.5"/>
<line x1="1746.18" y1="644.6" x2="1746.18" y2="1068" stroke="#fff" stroke-width="3.2"/>
<line x1="1803.74" y1="644.6" x2="1803.74" y2="1068" stroke="#fff" stroke-width="3.2"/>
<line x1="1861.3" y1="644.6" x2="1861.3" y2="1068" stroke="#fff" stroke-width="3.2"/>
<line x1="1918.86" y1="644.6" x2="1918.86" y2="1068" stroke="#fff" stroke-width="3.2"/>
<line x1="1976.42" y1="644.6" x2="1976.42" y2="1068" stroke="#fff" stroke-width="3.2"/>
<line x1="1717.4" y1="644.6" x2="1717.4" y2="1068" stroke="#fff" stroke-width="3.5"/>
<line x1="1774.96" y1="644.6" x2="1774.96" y2="1068" stroke="#fff" stroke-width="3.5"/>
<line x1="1832.52" y1="644.6" x2="1832.52" y2="1068" stroke="#fff" stroke-width="3.5"/>
<line x1="1890.08" y1="644.6" x2="1890.08" y2="1068" stroke="#fff" stroke-width="3.5"/>
<line x1="1947.64" y1="644.6" x2="1947.64" y2="1068" stroke="#fff" stroke-width="3.5"/>
<line x1="2005.2" y1="644.6" x2="2005.2" y2="1068" stroke="#fff" stroke-width="3.5"/>
<path d="M1703 1048.3H1717.7H1717.81V1046.47H1717.89V1044.64H1718.05V1042.81H1718.34V1040.98H1718.78V1039.15H1719.38V1037.31H1720.11V1035.48H1720.91V1033.65H1724.44V1031.82H1728.2V1029.99H1730.64V1028.16H1732.93V1026.33H1735.08V1024.5H1737.13V1022.67H1739.28V1020.84H1749.06V1019H1753.47V1017.17H1756.84V1015.34H1759.81V1013.51H1762.05V1011.68H1764.43V1009.85H1767.02V1008.02H1769.82V1006.19H1772.62V1004.36H1775.36V1002.53H1777.37V1000.7H1778.97V998.86H1780.41V997.03H1781.72V995.2H1782.76V993.37H1783.61V991.54H1784.5V989.71H1785.49V987.88H1786.62V986.05H1787.92V984.22H1789.76V982.39H1791.71V980.55H1793.72V978.72H1795.71V976.89H1797.63V975.06H1799.31V973.23H1800.77V971.4H1802.07V969.57H1803.24V967.74H1804.33V965.91H1805.41V964.08H1806.97V962.25H1809.07V960.41H1811.3V958.58H1813.7V956.75H1816.24V954.92H1818.26V953.09H1820.07V951.26H1821.85V949.43H1823.55V947.6H1825.11V945.77H1826.41V943.94H1827.21V942.1H1827.9V940.27H1828.51V938.44H1829.11V936.61H1829.78V934.78H1830.56V932.95H1831.5V931.12H1832.47V929.29H1833.37V927.46H1834.38V925.63H1835.41V923.8H1836.41V921.96H1837.32V920.13H1838.09V918.3H1838.7V916.47H1839.16V914.64H1841.44V912.81H1843.97V910.98H1846.5V909.15H1849.1V907.32H1850.36V905.49H1851V903.65H1851.8V901.82H1852.73V899.99H1853.75V898.16H1854.78V896.33H1855.78V894.5H1857.06V892.67H1858.19V890.84H1859.17V889.01H1860.01V887.18H1860.73V885.35H1861.41V883.51H1862.1V881.68H1862.87V879.85H1863.72V878.02H1864.67V876.19H1865.77V874.36H1867.01V872.53H1868.32V870.7H1869.64V868.87H1870.91V867.04H1872.06V865.2H1873.07V863.37H1873.92V861.54H1875.1V859.71H1876.23V857.88H1877.32V856.05H1878.44V854.22H1879.65V852.39H1880.98V850.56H1882.37V848.73H1883.92V846.9H1885.58V845.06H1887.31V843.23H1888.76V841.4H1889.77V839.57H1890.66V837.74H1891.4V835.91H1891.99V834.08H1892.43V832.25H1892.78V830.42H1893.11V828.59H1894.15V826.75H1895.38V824.92H1896.75V823.09H1898.27V821.26H1899.94V819.43H1901.67V817.6H1902.98V815.77H1904.27V813.94H1905.48V812.11H1906.57V810.28H1911.89V808.45H1913.51V806.61H1913.55V804.78H1913.55V802.95H1913.55V801.12H1913.55V799.29H1913.55V797.46H1913.78V795.63H1914.94V793.8H1916.31V791.97H1917.79V790.14H1919.32V788.3H1920.82V786.47H1922.24V784.64H1923.42V782.81H1924.32V780.98H1925.07V779.15H1925.69V777.32H1926.24V775.49H1926.78V773.66H1927.38V771.83H1928.1V770H1928.96V768.16H1930.03V766.33H1931.42V764.5H1932.9V762.67H1934.42V760.84H1935.91V759.01H1937.04V757.18H1937.82V755.35H1938.45V753.52H1938.92V751.69H1939.27V749.85H1939.56V748.02H1939.86V746.19H1940.22V744.36H1940.99V742.53H1942.32V740.7H1943.81V738.87H1945.44V737.04H1947.15V735.21H1948.73V733.38H1950.23V731.55H1951.63V729.71H1952.88V727.88H1954.18V726.05H1956.71V724.22H1959.14V722.39H1959.65V720.56H1959.8V718.73H1960.03V716.9H1960.39V715.07H1960.91V713.24H1961.58V711.4H1962.38V709.57H1963.25V707.74H1964.14V705.91H1964.98V704.08H1966.08V702.25H1967.73V700.42H1969.22V698.59H1970.57V696.76H1971.89V694.93H1973.31V693.1H1974.76V691.26H1976.3V689.43H1977.4V687.6H1978.54V685.77H1979.82V683.94H1981.22V682.11H1982.7V680.28H1984.23V678.45H1988.2V676.62H1991.47V674.79H1993.02V672.95H1994.42V671.12H1995.69V669.29H1998.03V667.46H2000.64V665.63H2001.74V663.8H2018.9" fill="none" stroke="#F8766D" stroke-width="3.2" stroke-linejoin="miter"/>
<path d="M1703 1048.3H1717.7H1718.1V1046.55H1719.6V1044.8H1720.65V1043.06H1721.82V1041.31H1723.25V1039.56H1724.16V1037.81H1725.93V1036.07H1726.52V1034.32H1728.6V1032.57H1728.9V1030.82H1731.26V1029.08H1734.32V1027.33H1738.61V1025.58H1738.61V1023.83H1739.61V1022.08H1739.61V1020.34H1740.58V1018.59H1741.41V1016.84H1749V1015.09H1750.5V1013.35H1753.08V1011.6H1753.08V1009.85H1754.64V1008.1H1754.64V1006.35H1756.16V1004.61H1756.16V1002.86H1758.54V1001.11H1759.58V999.36H1763.4V997.62H1764.12V995.87H1766.3V994.12H1766.42V992.37H1768.32V990.62H1768.73V988.88H1770.44V987.13H1771.57V985.38H1773.24V983.63H1774.7V981.89H1775.8V980.14H1777.09V978.39H1777.63V976.64H1779.24V974.9H1779.47V973.15H1781.38V971.4H1781.38V969.65H1783.51V967.9H1783.51V966.16H1785.35V964.41H1785.35V962.66H1786.53V960.91H1786.53V959.17H1787.69V957.42H1787.69V955.67H1788.81V953.92H1788.81V952.17H1789.91V950.43H1789.91V948.68H1790.98V946.93H1790.98V945.18H1792.34V943.44H1792.34V941.69H1794.51V939.94H1794.51V938.19H1796.65V936.45H1796.65V934.7H1798.77V932.95H1799.03V931.2H1800.88V929.45H1802.47V927.71H1805.49V925.96H1807.85V924.21H1810.55V922.46H1813.4V920.72H1815.95V918.97H1819.15V917.22H1820.09V915.47H1821.81V913.72H1821.94V911.98H1823.94V910.23H1823.94V908.48H1826.06V906.73H1826.06V904.99H1828.15V903.24H1828.15V901.49H1830.06V899.74H1830.06V898H1831.7V896.25H1831.7V894.5H1833.31V892.75H1833.31V891H1834.89V889.26H1834.89V887.51H1836.44V885.76H1836.44V884.01H1837.96V882.27H1837.96V880.52H1839.45V878.77H1839.45V877.02H1840.9V875.27H1840.9V873.53H1842.3V871.78H1842.3V870.03H1843.68V868.28H1843.99V866.54H1845.06V864.79H1846.82V863.04H1851.67V861.29H1856.72V859.55H1857.9V857.8H1859.46V856.05H1859.83V854.3H1861.7V852.55H1861.78V850.81H1863.92V849.06H1864.14V847.31H1867.04V845.56H1867.16V843.82H1870.26V842.07H1870.26V840.32H1874.61V838.57H1878.13V836.82H1883.06V835.08H1883.06V833.33H1885V831.58H1885V829.83H1886.9V828.09H1886.9V826.34H1890.28V824.59H1891.14V822.84H1895.15V821.1H1895.15V819.35H1897.12V817.6H1897.12V815.85H1899.02V814.1H1899.07V812.36H1900.9V810.61H1901.24V808.86H1904.08V807.11H1906.8V805.37H1909.76V803.62H1911.48V801.87H1913.09V800.12H1915.14V798.38H1915.81V796.63H1917.08V794.88H1917.08V793.13H1918.54V791.38H1918.54V789.64H1919.99V787.89H1919.99V786.14H1921.41V784.39H1921.41V782.65H1922.81V780.9H1923V779.15H1926.79V777.4H1927.1V775.65H1929.9V773.91H1929.9V772.16H1931.24V770.41H1931.24V768.66H1932.55V766.92H1932.55V765.17H1933.84V763.42H1933.84V761.67H1935.84V759.92H1936.01V758.18H1938.81V756.43H1939.21V754.68H1941.76V752.93H1942.61V751.19H1945.06V749.44H1946.21V747.69H1948.16V745.94H1949.09V744.2H1950.35V742.45H1951.61V740.7H1952.54V738.95H1954.12V737.2H1954.54V735.46H1956.21V733.71H1956.3V731.96H1958.26V730.21H1958.26V728.47H1960.3V726.72H1960.3V724.97H1962.96V723.22H1962.96V721.47H1966.01V719.73H1966.01V717.98H1968.48V716.23H1968.48V714.48H1970.24V712.74H1970.24V710.99H1971.98V709.24H1971.98V707.49H1974.43V705.75H1974.51V704H1977.85V702.25H1978.31V700.5H1982.61V698.75H1984.04V697.01H1987.66V695.26H1989.05V693.51H1991.87V691.76H1991.89V690.02H1993.29V688.27H1993.61V686.52H1994.69V684.77H1995.34V683.02H1996.48V681.28H1997.93V679.53H1998.82V677.78H2000.59V676.03H2000.79V674.29H2002.21V672.54H2002.21V670.79H2003.56V669.04H2003.56V667.3H2004.89V665.55H2004.89V663.8H2018.9" fill="none" stroke="#4FC7C9" stroke-width="3.2" stroke-linejoin="miter"/>
<rect x="1724.9" y="660" width="140.5" height="50.3" fill="#fff"/>
<rect x="1731" y="670.2" width="17.9" height="36.5" fill="#F2F2F2"/>
<line x1="1732.5" y1="678.7" x2="1747.1" y2="678.7" stroke="#F8766D" stroke-width="3.5"/>
<line x1="1732.5" y1="697.4" x2="1747.1" y2="697.4" stroke="#4FC7C9" stroke-width="3.5"/>
<text x="1755.9" y="684.9" font-size="24" fill="#000">Observed</text>
<text x="1755.9" y="706" font-size="24" fill="#000">Simulated</text>
<text x="1777.8" y="797.2" font-size="24" fill="#000"><tspan font-style="italic">P</tspan> = 0.002</text>
<line x1="1699.8" y1="1048.3" x2="1703" y2="1048.3" stroke="#333" stroke-width="2.5"/>
<text x="1696" y="1054.2" font-size="24" text-anchor="end" fill="#4D4D4D">0.00</text>
<line x1="1699.8" y1="952.02" x2="1703" y2="952.02" stroke="#333" stroke-width="2.5"/>
<text x="1696" y="957.92" font-size="24" text-anchor="end" fill="#4D4D4D">0.25</text>
<line x1="1699.8" y1="855.75" x2="1703" y2="855.75" stroke="#333" stroke-width="2.5"/>
<text x="1696" y="861.65" font-size="24" text-anchor="end" fill="#4D4D4D">0.50</text>
<line x1="1699.8" y1="759.47" x2="1703" y2="759.47" stroke="#333" stroke-width="2.5"/>
<text x="1696" y="765.37" font-size="24" text-anchor="end" fill="#4D4D4D">0.75</text>
<line x1="1699.8" y1="663.2" x2="1703" y2="663.2" stroke="#333" stroke-width="2.5"/>
<text x="1696" y="669.1" font-size="24" text-anchor="end" fill="#4D4D4D">1.00</text>
<line x1="1717.4" y1="1068" x2="1717.4" y2="1071" stroke="#333" stroke-width="2.5"/>
<text x="1717.4" y="1093.7" font-size="24" text-anchor="middle" fill="#4D4D4D">0.0</text>
<line x1="1774.96" y1="1068" x2="1774.96" y2="1071" stroke="#333" stroke-width="2.5"/>
<text x="1774.96" y="1093.7" font-size="24" text-anchor="middle" fill="#4D4D4D">0.1</text>
<line x1="1832.52" y1="1068" x2="1832.52" y2="1071" stroke="#333" stroke-width="2.5"/>
<text x="1832.52" y="1093.7" font-size="24" text-anchor="middle" fill="#4D4D4D">0.2</text>
<line x1="1890.08" y1="1068" x2="1890.08" y2="1071" stroke="#333" stroke-width="2.5"/>
<text x="1890.08" y="1093.7" font-size="24" text-anchor="middle" fill="#4D4D4D">0.3</text>
<line x1="1947.64" y1="1068" x2="1947.64" y2="1071" stroke="#333" stroke-width="2.5"/>
<text x="1947.64" y="1093.7" font-size="24" text-anchor="middle" fill="#4D4D4D">0.4</text>
<line x1="2005.2" y1="1068" x2="2005.2" y2="1071" stroke="#333" stroke-width="2.5"/>
<text x="2005.2" y="1093.7" font-size="24" text-anchor="middle" fill="#4D4D4D">0.5</text>
<text x="1864.4" y="1121.8" font-size="24" text-anchor="middle" fill="#000">Relative position of DSBs</text>
<text x="1644.7" y="855" font-size="24" text-anchor="middle" fill="#000" transform="rotate(-90 1644.7 855)">Cumulative distribution</text>
</svg>
</body></html>
